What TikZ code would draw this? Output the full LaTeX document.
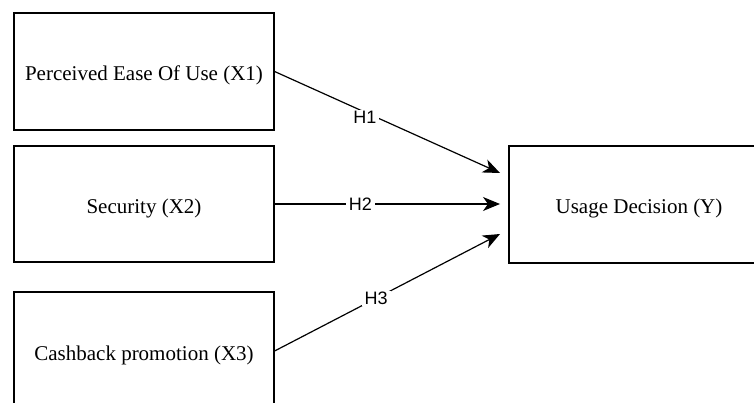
\documentclass[tikz,border=0pt]{standalone}
\usepackage{fontspec}
\setmainfont{Liberation Serif}
\newfontfamily\lblfont{Liberation Sans}
\usetikzlibrary{arrows.meta}
\begin{document}
\begin{tikzpicture}[x=1pt,y=-1pt,
  box/.style={draw=black, line width=1.2pt, minimum width=260pt, inner sep=0pt,
    font=\fontsize{21}{24}\selectfont, text height=19pt, text depth=0pt},
  link/.style={draw=black, line width=1.2pt, -{Stealth[length=17pt,width=14pt,inset=5pt]}},
  lbl/.style={fill=white, inner xsep=3pt, inner ysep=1pt, font=\lblfont\fontsize{18}{20}\selectfont}]
\useasboundingbox (0,0) rectangle (754,403);
\node[box, minimum height=117pt] (b1) at (144,71.5) {Perceived Ease Of Use (X1)};
\node[box, minimum height=116pt] (b2) at (144,204) {Security (X2)};
\node[box, minimum height=118pt] (b3) at (144,351) {Cashback promotion (X3)};
\node[box, minimum height=117pt] (y) at (639,204.5) {Usage Decision (Y)};
\coordinate (e1) at (500,173);
\coordinate (e2) at (500,204);
\coordinate (e3) at (500,234);
\draw[link] (b1.east) -- node[lbl, pos=0.4, yshift=-5pt] (h1) {H1} (e1);
\draw[link] (b2.east) -- node[lbl, pos=0.38] (h2) {H2} (e2);
\draw[link] (b3.east) -- node[lbl, pos=0.45] (h3) {H3} (e3);
\end{tikzpicture}
\end{document}
